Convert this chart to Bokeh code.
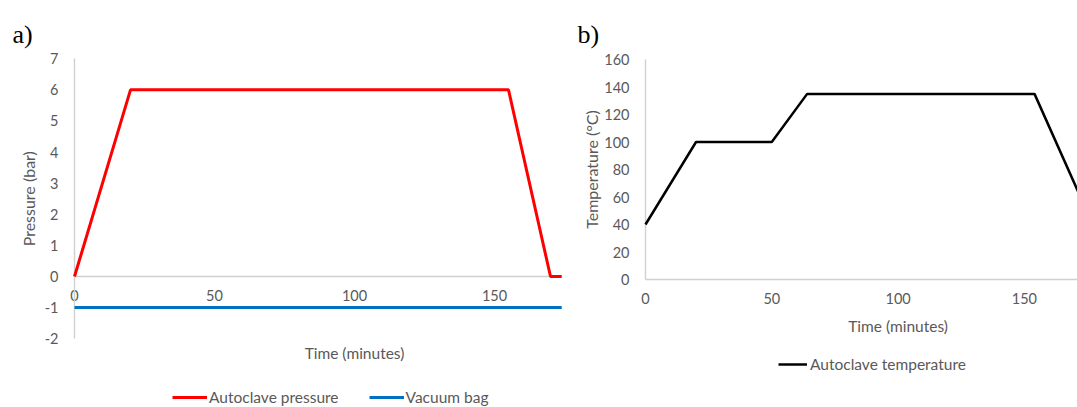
import math
from bokeh.plotting import figure
from bokeh.models import (FixedTicker, Label, Legend, LegendItem, Range1d)
from bokeh.layouts import row
from bokeh.embed import file_html
from bokeh.resources import INLINE

# ---- data: panel a (pressure) ----
time_pressure = [0, 20, 155, 170, 174]
autoclave_pressure = [0, 6, 6, 0, 0]
time_vacuum = [0, 174]
vacuum_bag = [-1, -1]
x_ticks = [0, 50, 100, 150]
pressure_ticks = [-2, -1, 0, 1, 2, 3, 4, 5, 6, 7]

# ---- data: panel b (temperature) ----
time_temperature = [0, 20, 50, 64, 154, 180]
autoclave_temperature = [40, 100, 100, 135, 135, 28]
temperature_ticks = [0, 20, 40, 60, 80, 100, 120, 140, 160]

FONT = "Lato"
GREY = "#595959"
AXIS = "#d0d0d0"


def style(p):
    p.background_fill_color = "white"
    p.border_fill_color = "white"
    p.outline_line_color = None
    p.xgrid.visible = False
    p.ygrid.visible = False
    for ax in p.axis:
        ax.axis_line_color = AXIS
        ax.axis_line_width = 1.4
        ax.major_tick_line_color = None
        ax.minor_tick_line_color = None
        ax.major_tick_in = 0
        ax.major_tick_out = 0
        ax.major_label_text_font = FONT
        ax.major_label_text_font_size = "14.5px"
        ax.major_label_text_color = GREY
        ax.fixed_location = 0


def text_label(x, y, text, dx=0, dy=0, angle=0.0, size="15.5px"):
    return Label(x=x, y=y, x_offset=dx, y_offset=dy, text=text,
                 text_font=FONT, text_font_size=size, text_color=GREY,
                 text_align="center", text_baseline="middle", angle=angle)


def panel_label(x, y, text, dx, dy):
    return Label(x=x, y=y, x_offset=dx, y_offset=dy, text=text,
                 text_font="Liberation Serif", text_font_size="26px",
                 text_color="black", text_align="left", text_baseline="alphabetic")


def make_fig(w, x_range, y_range):
    return figure(width=w, height=407, output_backend="svg", toolbar_location=None,
                  x_range=x_range, y_range=y_range,
                  min_border_left=0, min_border_right=0, min_border_top=0,
                  min_border_bottom=0)


# ---------------- panel a ----------------
# frame covers the whole canvas: x 0 at 74px, 2.8 px/min; y 0 at 276px, 31.11 px/bar
pa = make_fig(570, Range1d(-74 / 2.8, 496 / 2.8), Range1d(-131 / 31.11, 276 / 31.11))
ra = pa.line(time_pressure, autoclave_pressure, line_color="#ff0000", line_width=3,
             level="overlay")
rb = pa.line(time_vacuum, vacuum_bag, line_color="#0070c0", line_width=3,
             level="overlay")
style(pa)
pa.xaxis.ticker = FixedTicker(ticks=x_ticks)
pa.yaxis.ticker = FixedTicker(ticks=pressure_ticks)
pa.yaxis.major_label_overrides = {t: str(t) for t in pressure_ticks}
pa.xaxis.bounds = (0, 174)
pa.yaxis.bounds = (-2, 7)
pa.xaxis.major_label_standoff = 13
pa.yaxis.major_label_standoff = 16

pa.add_layout(text_label(100, -2, "Time (minutes)", dy=-14))
pa.add_layout(text_label(0, 2.5, "Pressure (bar)", dx=-46, angle=math.pi / 2, size="16px"))
pa.add_layout(panel_label(0, 7, "a)", -62, 24.5))

leg_a = Legend(items=[LegendItem(label="Autoclave pressure", renderers=[ra]),
                      LegendItem(label="Vacuum bag", renderers=[rb])],
               location=(172, 1), orientation="horizontal", padding=0, margin=0,
               spacing=30, glyph_width=35, glyph_height=14, label_height=14,
               label_standoff=2, border_line_color=None, background_fill_alpha=0,
               label_text_font=FONT, label_text_font_size="15.5px",
               label_text_color=GREY)
pa.add_layout(leg_a, "center")

# ---------------- panel b ----------------
# x 0 at 75px (645 in page), 2.526 px/min; y 0 at 279px, 1.375 px/degC
pb = make_fig(507, Range1d(-75 / 2.526, 432 / 2.526), Range1d(-128 / 1.375, 279 / 1.375))
rt = pb.line(time_temperature, autoclave_temperature, line_color="black", line_width=2.5,
             level="overlay")
style(pb)
pb.xaxis.ticker = FixedTicker(ticks=x_ticks)
pb.yaxis.ticker = FixedTicker(ticks=temperature_ticks)
pb.xaxis.bounds = (0, 432 / 2.526)
pb.yaxis.bounds = (0, 160)
pb.xaxis.major_label_standoff = 13
pb.yaxis.major_label_standoff = 16

pb.add_layout(text_label(100, 0, "Time (minutes)", dy=-46))
pb.add_layout(text_label(0, 80, "Temperature (°C)", dx=-54, angle=math.pi / 2, size="16px"))
pb.add_layout(panel_label(0, 160, "b)", -68, 25.5))

leg_b = Legend(items=[LegendItem(label="Autoclave temperature", renderers=[rt])],
               location=(208, 34), orientation="horizontal", padding=0, margin=0,
               glyph_width=29, glyph_height=14, label_height=14, label_standoff=3,
               border_line_color=None, background_fill_alpha=0,
               label_text_font=FONT, label_text_font_size="15.5px",
               label_text_color=GREY)
pb.add_layout(leg_b, "center")

layout = row(pa, pb)
open("out.html", "w").write(file_html(layout, INLINE))
